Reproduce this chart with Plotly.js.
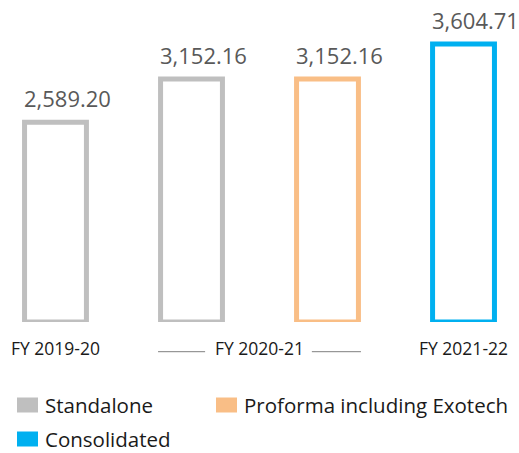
<!DOCTYPE html>
<html>
<head>
<meta charset="utf-8">
<script src="https://cdn.plot.ly/plotly-3.0.1.min.js"></script>
<style>html,body{margin:0;padding:0;background:#fff;}#chart{width:519px;height:453px;}</style>
</head>
<body>
<div id="chart"></div>
<script>
// ---- data ----
const tickPositions = [0, 1.5, 3];
const tickLabels = ['FY 2019-20', 'FY 2020-21', 'FY 2021-22'];
const standaloneX = [0, 1];
const standaloneValues = [2589.20, 3152.16];
const proformaX = [2];
const proformaValues = [3152.16];
const consolidatedX = [3];
const consolidatedValues = [3604.71];
const seriesNames = ['Standalone', 'Proforma including Exotech', 'Consolidated'];
const seriesColors = ['#BFBFBF', '#F9BE86', '#00B0F0'];

// ---- layout helpers ----
const W = 519, H = 453, MB = 131;
const PH = H - MB;
const py = p => (PH - p) / PH;
const px = p => p / W;
const barWidth = 0.455;
const half = barWidth / 2 + 2.5 / 136;

function barTrace(x, y, color, name) {
  return {
    type: 'bar', x: x, y: y, name: name, width: barWidth,
    marker: {color: 'rgba(255,255,255,0)', line: {color: color, width: 5}},
    cliponaxis: false, hoverinfo: 'skip', showlegend: false
  };
}

const data = [
  barTrace(standaloneX, standaloneValues, seriesColors[0], seriesNames[0]),
  barTrace(proformaX, proformaValues, seriesColors[1], seriesNames[1]),
  barTrace(consolidatedX, consolidatedValues, seriesColors[2], seriesNames[2])
];

const fmt = v => v.toLocaleString('en-US', {minimumFractionDigits: 2, maximumFractionDigits: 2});
const annotations = [];
[[standaloneX, standaloneValues], [proformaX, proformaValues], [consolidatedX, consolidatedValues]].forEach(([xs, ys]) => {
  xs.forEach((x, i) => {
    annotations.push({xref: 'x', yref: 'y', x: x - half, y: ys[i], xanchor: 'left', yanchor: 'bottom', yshift: 7,
      text: fmt(ys[i]), showarrow: false, font: {family: 'Open Sans', size: 22, color: '#595959'}});
  });
});

const lineY = py(351.7);
const shapes = [
  {type: 'line', xref: 'x', yref: 'paper', x0: 1 - half, x1: 1.1, y0: lineY, y1: lineY, line: {color: '#7F7F7F', width: 1}},
  {type: 'line', xref: 'x', yref: 'paper', x0: 1.885, x1: 2 + half, y0: lineY, y1: lineY, line: {color: '#7F7F7F', width: 1}}
];
// custom legend: [x px, y center px]
const legendPos = [[17, 405], [216, 405], [17, 439]];
seriesNames.forEach((n, i) => {
  const [lx, ly] = legendPos[i];
  shapes.push({type: 'rect', xref: 'paper', yref: 'paper', x0: px(lx), x1: px(lx + 21), y0: py(ly - 7.5), y1: py(ly + 7.5), fillcolor: seriesColors[i], line: {width: 0}});
  annotations.push({xref: 'paper', yref: 'paper', x: px(lx + 26), y: py(ly), xanchor: 'left', yanchor: 'middle', text: n, showarrow: false, font: {family: 'Open Sans', size: 20.5, color: '#1A1A1A'}});
});

const layout = {
  width: W, height: H,
  margin: {l: 0, r: 0, t: 0, b: MB, pad: 0},
  paper_bgcolor: '#fff', plot_bgcolor: '#fff',
  barmode: 'overlay',
  showlegend: false,
  xaxis: {range: [-0.408, 3.408], tickvals: tickPositions, ticktext: tickLabels, showgrid: false, zeroline: false, showline: false, ticks: '', ticklabelstandoff: 14, tickfont: {family: 'Open Sans', size: 17.5, color: '#1A1A1A'}, fixedrange: true},
  yaxis: {range: [0, 4175], visible: false, showgrid: false, zeroline: false, fixedrange: true},
  shapes: shapes,
  annotations: annotations,
  font: {family: 'Open Sans'}
};

Plotly.newPlot('chart', data, layout, {displayModeBar: false, staticPlot: true});
</script>
</body>
</html>
